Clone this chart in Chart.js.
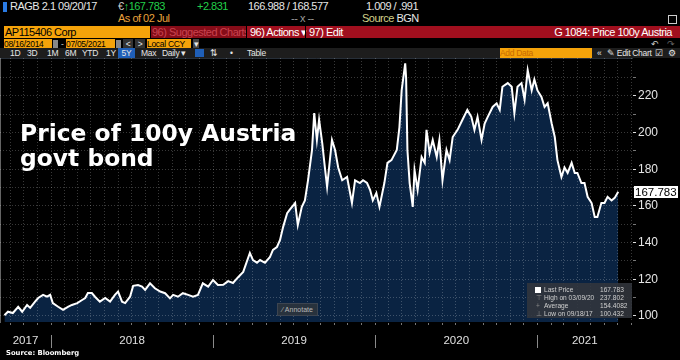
<!DOCTYPE html>
<html>
<head>
<meta charset="utf-8">
<script src="https://cdn.jsdelivr.net/npm/chart.js@4.4.1/dist/chart.umd.min.js"></script>
<style>
    html, body { margin: 0; padding: 0; background: #000; }
    #page {
        position: relative; width: 680px; height: 360px; overflow: hidden;
        background: #000; color: #e6e6e6;
        font-family: "Liberation Sans", Arial, sans-serif;
    }
    .t { position: absolute; white-space: nowrap; font-size: 11px; line-height: 12px; letter-spacing: -0.5px; }
    .s { position: absolute; white-space: nowrap; font-size: 8.5px; line-height: 10px; letter-spacing: -0.3px; }
    .box { position: absolute; overflow: hidden; }
    .orange { background: #f5a30a; color: #000; }
    #chartWrap { position: absolute; left: 0; top: 58px; width: 680px; height: 302px; }
    #title {
        position: absolute; left: 20px; top: 121px; color: #fff;
        font: bold 23.4px/25px "DejaVu Sans", Verdana, sans-serif;
    }
    #legend {
        position: absolute; left: 527px; top: 283px; width: 105px; height: 35px;
        background: rgba(50, 54, 60, 0.88); font-size: 6.6px; line-height: 8px; color: #cfcfcf;
    }
    #legend div { position: absolute; white-space: nowrap; }
    #source {
        position: absolute; left: 6px; top: 349px; color: #fff;
        font: bold 6.8px/9px "DejaVu Sans", Verdana, sans-serif;
    }
</style>
</head>
<body>
<div id="page">
    <!-- terminal header -->
    <div class="box" style="left:3px;top:2px;width:4px;height:10px;background:#2a7be4"></div>
    <div class="t" style="left:10px;top:0">RAGB 2.1 09/20/17</div>
    <div class="t" style="left:118px;top:0;color:#ccc">€<span style="color:#22cf4a">↑167.783</span></div>
    <div class="t" style="left:197px;top:0;color:#22cf4a">+2.831</div>
    <div class="t" style="left:248px;top:0">166.988 / 168.577</div>
    <div class="t" style="left:366px;top:0">1.009 / .991</div>
    <div class="t" style="left:118px;top:12px;color:#e9a23b">As of 02 Jul</div>
    <div class="t" style="left:291px;top:12px;color:#999">-- x --</div>
    <div class="t" style="left:362px;top:12px;color:#d2d28a">Source <span style="color:#e6e6e6">BGN</span></div>
    <div class="box" style="left:668px;top:15px;width:7px;height:7px;border:1px solid #ccc"></div>

    <div class="box orange t" style="left:4px;top:26px;width:145px;height:12px;padding-left:1px">AP115406 Corp</div>
    <div class="box" style="left:151px;top:26px;width:529px;height:12px;background:#a00f1e"></div>
    <div class="box t" style="left:151px;top:26px;width:95px;height:12px;background:#860c18;color:#c9434f;padding-left:1px">96) Suggested Charts</div>
    <div class="box" style="left:246px;top:26px;width:1px;height:12px;background:#000"></div>
    <div class="t" style="left:250px;top:26px;color:#fff">96) Actions ▾</div>
    <div class="box" style="left:305px;top:26px;width:1px;height:12px;background:#000"></div>
    <div class="t" style="left:309px;top:26px;color:#fff">97) Edit</div>
    <div class="t" style="right:8px;top:26px;color:#fff">G 1084: Price 100y Austria</div>

    <div class="box orange s" style="left:4px;top:39px;width:48px;height:10px">08/16/2014</div>
    <div class="box" style="left:53px;top:40px;width:5px;height:8px;background:#888"></div>
    <div class="s" style="left:61px;top:39px;color:#ccc">-</div>
    <div class="box orange s" style="left:66px;top:39px;width:49px;height:10px">07/05/2021</div>
    <div class="box" style="left:116px;top:40px;width:5px;height:8px;background:#888"></div>
    <div class="box s" style="left:123px;top:39px;width:10px;height:10px;background:#333;text-align:center">&lt;</div>
    <div class="box s" style="left:135px;top:39px;width:10px;height:10px;background:#333;text-align:center">&gt;</div>
    <div class="box orange s" style="left:147px;top:39px;width:44px;height:10px">Local CCY</div>
    <div class="box s" style="left:193px;top:39px;width:6px;height:10px;background:#444;text-align:center">▾</div>
    <div class="s" style="left:651px;top:39px;color:#ccc">↶</div>
    <div class="s" style="left:667px;top:39px;color:#666">↷</div>

    <div class="box" style="left:0;top:48px;width:680px;height:10px;background:#1d1d1d"></div>
    <div class="s" style="left:10px;top:48px">1D</div>
    <div class="s" style="left:27px;top:48px">3D</div>
    <div class="s" style="left:47px;top:48px">1M</div>
    <div class="s" style="left:65px;top:48px">6M</div>
    <div class="s" style="left:82px;top:48px">YTD</div>
    <div class="s" style="left:106px;top:48px">1Y</div>
    <div class="box s" style="left:118px;top:48px;width:17px;height:10px;background:#1f5fb8;text-align:center">5Y</div>
    <div class="s" style="left:141px;top:48px">Max</div>
    <div class="s" style="left:162px;top:48px">Daily ▾</div>
    <div class="box" style="left:195px;top:49px;width:9px;height:8px;background:#1f5fb8"></div>
    <div class="s" style="left:210px;top:48px">⇅</div>
    <div class="s" style="left:230px;top:48px">•</div>
    <div class="s" style="left:247px;top:48px">Table</div>
    <div class="box s" style="left:500px;top:48px;width:92px;height:10px;background:#f5a30a;color:#c86a00">Add Data</div>
    <div class="s" style="left:597px;top:48px">«</div>
    <div class="s" style="left:607px;top:48px">✎ Edit Chart</div>
    <div class="s" style="left:655px;top:48px">☑</div>
    <div class="s" style="left:668px;top:48px">⚙</div>

    <div id="chartWrap"><canvas id="priceChart"></canvas></div>

    <div id="title">Price of 100y Austria<br>govt bond</div>

    <div class="box" style="left:277px;top:303px;width:39px;height:11px;background:#28323d;border:1px solid #3c4450;color:#b8b8b8;font-size:7px;line-height:11px;text-align:center">⁄ Annotate</div>

    <div id="legend"></div>

    <div id="source">Source: Bloomberg</div>
</div>

<script>
// price of RAGB 2.1 09/20/2117
const priceDates = [
    "2017-09-18", "2017-09-26", "2017-10-07", "2017-10-19", "2017-10-28", "2017-11-08",
    "2017-11-15", "2017-11-26", "2017-12-03", "2017-12-14", "2017-12-23", "2017-12-30",
    "2018-01-05", "2018-01-17", "2018-01-28", "2018-02-08", "2018-02-17", "2018-03-01",
    "2018-03-12", "2018-03-19", "2018-03-25", "2018-04-03", "2018-04-10", "2018-04-21",
    "2018-05-03", "2018-05-14", "2018-05-25", "2018-06-01", "2018-06-10", "2018-06-17",
    "2018-06-28", "2018-07-05", "2018-07-16", "2018-07-25", "2018-08-01", "2018-08-12",
    "2018-08-23", "2018-09-04", "2018-09-15", "2018-09-26", "2018-10-03", "2018-10-14",
    "2018-10-25", "2018-11-06", "2018-11-17", "2018-11-28", "2018-12-09", "2018-12-21",
    "2019-01-01", "2019-01-12", "2019-01-24", "2019-02-04", "2019-02-15", "2019-02-26",
    "2019-03-10", "2019-03-25", "2019-04-01", "2019-04-10", "2019-04-17", "2019-04-28",
    "2019-05-09", "2019-05-16", "2019-05-25", "2019-06-01", "2019-06-08", "2019-06-17",
    "2019-06-23", "2019-07-05", "2019-07-11", "2019-07-20", "2019-07-27", "2019-08-03",
    "2019-08-12", "2019-08-17", "2019-08-23", "2019-08-28", "2019-09-04", "2019-09-10",
    "2019-09-15", "2019-09-26", "2019-10-03", "2019-10-10", "2019-10-19", "2019-10-30",
    "2019-11-10", "2019-11-17", "2019-11-28", "2019-12-05", "2019-12-14", "2019-12-21",
    "2019-12-27",
    "2020-01-04", "2020-01-11", "2020-01-22", "2020-01-29", "2020-02-07", "2020-02-19",
    "2020-02-25", "2020-03-01", "2020-03-09", "2020-03-11", "2020-03-14", "2020-03-19",
    "2020-03-26", "2020-03-30", "2020-04-06", "2020-04-15", "2020-04-22", "2020-04-26",
    "2020-05-03", "2020-05-10", "2020-05-19", "2020-05-25", "2020-06-01", "2020-06-10",
    "2020-06-17", "2020-06-24", "2020-07-05", "2020-07-16", "2020-07-27", "2020-08-05",
    "2020-08-12", "2020-08-19", "2020-08-28", "2020-09-04", "2020-09-11", "2020-09-22",
    "2020-10-01", "2020-10-08", "2020-10-14", "2020-10-26", "2020-11-04", "2020-11-10",
    "2020-11-17", "2020-11-26", "2020-12-03", "2020-12-10", "2020-12-19", "2020-12-25",
    "2021-01-01", "2021-01-10", "2021-01-17", "2021-01-24", "2021-02-02", "2021-02-09",
    "2021-02-15", "2021-02-24", "2021-03-03", "2021-03-10", "2021-03-19", "2021-03-26",
    "2021-04-01", "2021-04-10", "2021-04-17", "2021-04-24", "2021-05-03", "2021-05-10",
    "2021-05-16", "2021-05-25", "2021-06-01", "2021-06-08", "2021-06-17", "2021-06-24",
    "2021-07-02"
];

const priceValues = [
    100.4, 102.3, 101.6, 105, 102.3, 106, 104.4, 107.8, 109.8, 111.5, 110.5, 111.5,
    107, 105, 103.3, 105, 106, 107, 108.7, 109.8, 112.5, 112.5, 110.5, 107.8,
    109.8, 107.8, 111.5, 113.3, 107.8, 107, 110.5, 116.4, 116.9, 116, 114.2, 117.8,
    115.1, 113.3, 112.4, 109.6, 111.5, 110.5, 112.4, 111.5, 110.5, 111.5, 117.8, 116,
    119.6, 116.9, 117, 119, 118, 121, 124, 134.4, 130.5, 129, 130.5, 129,
    132, 136, 137.6, 141.5, 148.6, 156, 158, 161.6, 149.6, 159.5, 163, 174,
    190.5, 210.7, 196, 207, 194.4, 181, 170.4, 196, 190.5, 181, 174, 175.8,
    161.6, 174, 172.5, 174, 172.5, 168.7, 163,
    167, 159.5, 172.5, 183.5, 185, 190.5, 203, 223, 237.8, 230, 190.5, 172.5,
    159.5, 179.6, 168.7, 186.7, 183.5, 201.5, 189, 196, 186.7, 196, 174, 190.5,
    185, 197.6, 201.5, 207, 212.4, 208.6, 201.5, 208.6, 196, 205, 208.6, 214,
    216, 212.4, 225, 227, 225, 210.7, 225, 227, 218, 234, 223, 229,
    223, 219.5, 214, 216, 205, 197.6, 185, 175.8, 181, 178, 183.5, 178,
    178, 172.5, 172.5, 165, 161.6, 154, 154, 161.6, 161.6, 165, 163, 164.4,
    167.783
];

const yearLabels = ["2017", "2018", "2019", "2020", "2021"];
const yTickValues = [100, 110, 120, 130, 140, 150, 160, 170, 180, 190, 200, 210, 220, 230];
const lastPrice = 167.783;

const legendLabels = ["Last Price", "High on 03/09/20", "Average", "Low on 09/18/17"];
const legendValues = ["167.783", "237.802", "154.4082", "100.432"];

const axisStart = Date.UTC(2017, 8, 8);
const axisEnd = Date.UTC(2021, 7, 2);

// legend panel (bottom right of the plot)
const legendEl = document.getElementById("legend");
legendLabels.forEach((label, i) => {
    const top = 3 + i * 8;
    const marker = document.createElement("div");
    marker.style.cssText = i === 0
        ? `left:8px;top:${top + 1}px;width:6px;height:6px;background:#fff`
        : `left:9px;top:${top}px;color:#888`;
    if (i > 0) marker.textContent = ["", "⊤", "+", "⊥"][i];
    legendEl.appendChild(marker);

    const name = document.createElement("div");
    name.style.cssText = `left:17px;top:${top}px`;
    name.textContent = label;
    legendEl.appendChild(name);

    const value = document.createElement("div");
    value.style.cssText = `left:73px;top:${top}px`;
    value.textContent = legendValues[i];
    legendEl.appendChild(value);
});

function buildXTicks() {
    const ticks = [];
    for (let year = 2017; year <= 2021; year += 1) {
        for (let month = 0; month < 12; month += 1) {
            const value = Date.UTC(year, month, 1);
            if (value > axisStart && value < axisEnd) ticks.push({ value });
        }
    }
    yearLabels.forEach(label => {
        const year = Number(label);
        const from = Math.max(Date.UTC(year, 0, 1), axisStart);
        const to = Math.min(Date.UTC(year + 1, 0, 1), axisEnd);
        ticks.push({ value: (from + to) / 2, yearLabel: label });
    });
    return ticks.sort((a, b) => a.value - b.value);
}

const terminalExtras = {
    id: "terminalExtras",
    afterDraw(chart) {
        const { ctx } = chart;
        const xScale = chart.scales.x;
        const yScale = chart.scales.y;

        ctx.save();
        // year separators under the axis
        ctx.strokeStyle = "#8a8a8a";
        ctx.lineWidth = 1;
        yearLabels.slice(1).forEach(label => {
            const px = Math.round(xScale.getPixelForValue(Date.UTC(Number(label), 0, 1))) + 0.5;
            ctx.beginPath();
            ctx.moveTo(px, xScale.top + 13);
            ctx.lineTo(px, xScale.top + 26);
            ctx.stroke();
        });

        // last price tag on the right axis
        const py = Math.round(yScale.getPixelForValue(lastPrice));
        ctx.fillStyle = "#ffffff";
        ctx.fillRect(yScale.left + 2, py - 6, 44, 12);
        ctx.fillStyle = "#000";
        ctx.font = "11.5px 'Liberation Sans', Arial, sans-serif";
        ctx.textAlign = "left";
        ctx.textBaseline = "middle";
        ctx.fillText(lastPrice.toFixed(3), yScale.left + 3, py + 0.5);
        ctx.restore();
    }
};

const gridColor = "rgba(255,255,255,0.22)";

new Chart(document.getElementById("priceChart"), {
    type: "line",
    data: {
        datasets: [{
            data: priceDates.map((d, i) => ({ x: Date.parse(d), y: priceValues[i] })),
            borderColor: "#ffffff",
            borderWidth: 2,
            backgroundColor: "#0a2342",
            fill: "start",
            pointRadius: 0,
            tension: 0
        }]
    },
    options: {
        responsive: true,
        maintainAspectRatio: false,
        animation: false,
        events: [],
        layout: { padding: 0 },
        plugins: {
            legend: { display: false },
            tooltip: { enabled: false }
        },
        scales: {
            x: {
                type: "linear",
                min: axisStart,
                max: axisEnd,
                afterBuildTicks(axis) { axis.ticks = buildXTicks(); },
                afterFit(axis) {
                    axis.height = 38;
                    axis.paddingLeft = 0;
                    axis.paddingRight = 0;
                },
                grid: {
                    z: 1,
                    color: c => (c.tick && c.tick.yearLabel ? "rgba(0,0,0,0)" : gridColor),
                    tickColor: c => (c.tick && c.tick.yearLabel ? "rgba(0,0,0,0)" : "#777"),
                    tickLength: 3,
                    lineWidth: 1
                },
                border: { display: true, color: "#4f5e72", width: 1, dash: [1, 2] },
                ticks: {
                    autoSkip: false,
                    maxRotation: 0,
                    padding: 9,
                    color: "#e0e0e0",
                    font: { size: 11.5, family: "'Liberation Sans', Arial, sans-serif" },
                    callback: (value, index, ticks) => ticks[index].yearLabel || ""
                }
            },
            y: {
                position: "right",
                min: 96.7,
                max: 240.7,
                afterBuildTicks(axis) { axis.ticks = yTickValues.map(value => ({ value })); },
                afterFit(axis) {
                    axis.width = 48;
                    axis.paddingTop = 0;
                    axis.paddingBottom = 0;
                },
                grid: {
                    z: 1,
                    color: gridColor,
                    tickColor: c => (c.tick && c.tick.value % 20 === 0 ? "#dddddd" : "#777"),
                    tickLength: 4,
                    lineWidth: 1
                },
                border: { display: true, color: "#c8c8c8", width: 1, dash: [1, 2] },
                ticks: {
                    padding: 2,
                    color: "#e6e6e6",
                    font: { size: 12, family: "'Liberation Sans', Arial, sans-serif" },
                    callback: value => (value % 20 === 0 ? String(value) : "")
                }
            }
        }
    },
    plugins: [terminalExtras]
});
</script>
</body>
</html>
